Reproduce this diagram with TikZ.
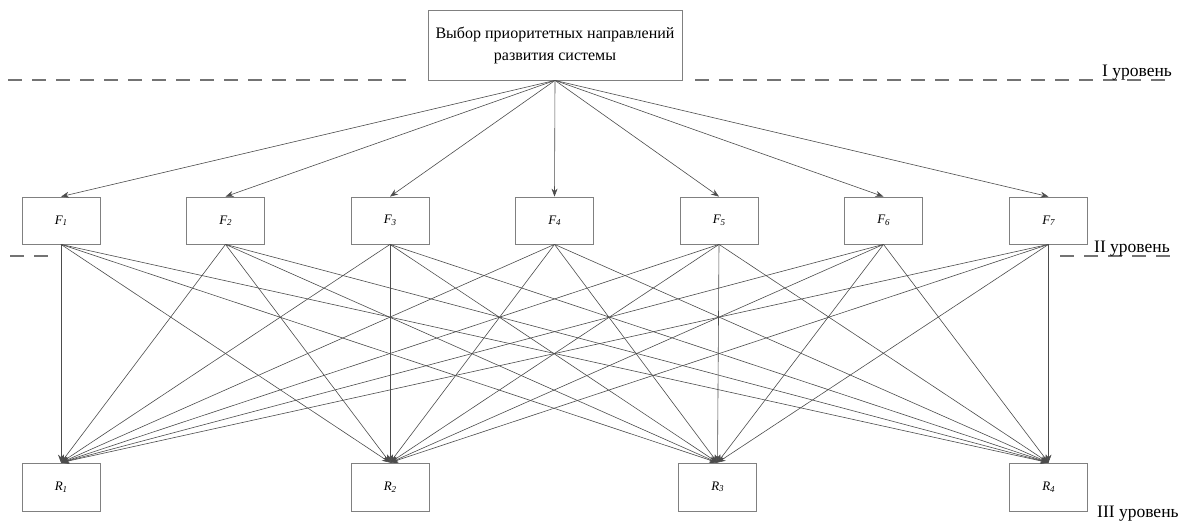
\documentclass[tikz,border=0pt]{standalone}
\usepackage{fontspec}
\setmainfont{Liberation Serif}
\usetikzlibrary{arrows.meta}
\begin{document}
\begin{tikzpicture}[x=1pt,y=-1pt,
  box/.style={draw=black!50,line width=0.8pt,fill=white,inner sep=0pt},
  fbox/.style={box,minimum width=78pt,minimum height=47pt,font=\fontsize{13}{15}\selectfont\itshape},
  conn/.style={draw=black!70,line width=0.6pt},
  arr/.style={conn,-{Stealth[length=8pt,width=6pt]}},
  lvl/.style={draw=black!55,line width=1.2pt,dash pattern=on 14pt off 10pt},
  lbl/.style={font=\fontsize{17.5}{19}\selectfont,inner sep=0pt,anchor=base west}]
\useasboundingbox (0,0) rectangle (1192,524);
% top node
\node[box,minimum width=254pt,minimum height=70pt,align=center,font=\fontsize{16}{22}\selectfont] (top) at (555,45) {Выбор приоритетных направлений\\развития системы};
% level lines
\draw[lvl] (8,80) -- (415,80);
\draw[lvl] (695,80) -- (1170,80);
\draw[lvl] (10,256) -- (48,256);
\draw[lvl] (1060,256) -- (1178,256);
\node[lbl] (l1) at (1102,77) {I уровень};
\node[lbl] (l2) at (1094,252) {II уровень};
\node[lbl] (l3) at (1097,517) {III уровень};
% F nodes
\foreach \i/\x in {1/61,2/225.5,3/390,4/554.5,5/719,6/883.5,7/1048.5}{
  \node[fbox] (F\i) at (\x,220.5) {F\raisebox{-1.5pt}{\small\itshape\i}};
}
% R nodes
\foreach \i/\x in {1/61,2/390,3/717.5,4/1048.5}{
  \node[fbox,minimum height=48pt] (R\i) at (\x,487) {R\raisebox{-1.5pt}{\small\itshape\i}};
}
% connections F -> R
\foreach \i in {1,...,7}{
  \foreach \j in {1,...,4}{
    \draw[arr] (F\i.south) -- (R\j.north);
  }
}
% top -> F
\foreach \i in {1,...,7}{
  \draw[arr] (top.south) -- (F\i.north);
}
\end{tikzpicture}
\end{document}
